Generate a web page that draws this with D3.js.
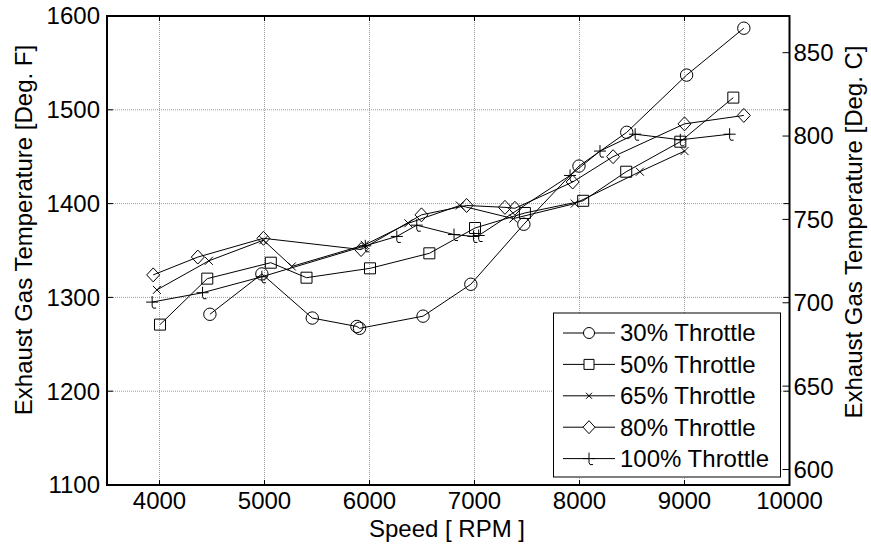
<!DOCTYPE html>
<html><head><meta charset="utf-8">
<script src="https://cdn.jsdelivr.net/npm/d3@7"></script>
<style>
html,body{margin:0;padding:0;background:#fff;}
svg{display:block;}
text{font-family:"Liberation Sans",Arial,Helvetica,sans-serif;fill:#000;}
</style></head>
<body>
<svg id="chart" width="871" height="552"></svg>
<script>
// ---- data ----
const rpmTicks = [4000,5000,6000,7000,8000,9000,10000];
const degFTicks = [1100,1200,1300,1400,1500,1600];
const degCTicks = [600,650,700,750,800,850];
const seriesNames = ["30% Throttle","50% Throttle","65% Throttle","80% Throttle","100% Throttle"];
const markerTypes = ["circle","square","x","diamond","t"];

const throttle30 = [[4480,1282],[4975,1325],[5455,1278],[5880,1269],[5905,1267],[6510,1280],[6965,1314],[7470,1378],[7995,1440],[8450,1476],[9020,1537],[9565,1587]];
const throttle50 = [[4005,1271],[4455,1320],[5060,1337],[5400,1321],[6005,1331],[6570,1347],[7005,1374],[7480,1390],[8035,1403],[8445,1434],[8960,1466],[9465,1513]];
const throttle65 = [[3975,1308],[4470,1339],[4990,1361],[5260,1333],[5955,1356],[6370,1379],[6860,1398],[7370,1384],[7955,1400],[8575,1434],[9000,1456]];
const throttle80 = [[3940,1324],[4365,1343],[4990,1363],[5920,1351],[6495,1388],[6925,1398],[7290,1396],[7385,1395],[7935,1423],[8320,1450],[9000,1485],[9565,1494]];
const throttle100 = [[3930,1295],[4410,1305],[4975,1322],[5960,1355],[6260,1365],[6450,1377],[6805,1367],[6990,1365],[7040,1366],[7910,1430],[8195,1456],[8530,1474],[8960,1468],[9430,1474]];
const allSeries = [throttle30, throttle50, throttle65, throttle80, throttle100];

// ---- layout ----
const svg = d3.select("#chart");
const L = 107, R = 789.5, T = 16, B = 485;
const x = d3.scaleLinear().domain([3500,10000]).range([L,R]);
const yF = d3.scaleLinear().domain([1100,1600]).range([B,T]);
const yC = d3.scaleLinear().domain([590.7,872]).range([B,T]);
const FS = 24;

// grid
const grid = svg.append("g").attr("stroke","#9a9a9a").attr("stroke-width",1).attr("stroke-dasharray","1,1");
rpmTicks.filter(v=>v<10000).forEach(v=>{
  grid.append("line").attr("x1",x(v)).attr("x2",x(v)).attr("y1",T).attr("y2",B);
});
degFTicks.filter(v=>v>1100 && v<1600).forEach(v=>{
  grid.append("line").attr("x1",L).attr("x2",R).attr("y1",yF(v)).attr("y2",yF(v));
});

// markers
function markerPath(type){
  switch(type){
    case "circle": return d3.symbol(d3.symbolCircle, Math.PI*6.2*6.2)();
    case "square": return "M-5.5,-5.5H5.5V5.5H-5.5Z";
    case "diamond": return "M0,-7L6.5,0L0,7L-6.5,0Z";
    case "x": return "M-4,-4L4,4M-4,4L4,-4";
    case "t": return "M-6,0H6M0,-6V4Q0,7 4,6";
  }
}
function markerPathSmall(type){
  switch(type){
    case "circle": return d3.symbol(d3.symbolCircle, Math.PI*5.5*5.5)();
    case "square": return "M-5,-5H5V5H-5Z";
    case "diamond": return "M0,-6.5L6,0L0,6.5L-6,0Z";
    case "x": return "M-3,-3L3,3M-3,3L3,-3";
    case "t": return "M-6,0H6M0,-6V4Q0,7 4,6";
  }
}

const line = d3.line().x(d=>x(d[0])).y(d=>yF(d[1]));
const plot = svg.append("g");
allSeries.forEach((s,i)=>{
  plot.append("path").datum(s).attr("d",line).attr("fill","none").attr("stroke","#000").attr("stroke-width",1);
});
allSeries.forEach((s,i)=>{
  plot.selectAll(null).data(s).enter().append("path")
    .attr("d",markerPath(markerTypes[i]))
    .attr("transform",d=>`translate(${x(d[0])},${yF(d[1])})`)
    .attr("fill","none").attr("stroke","#000").attr("stroke-width",1);
});

// axes box
const ax = svg.append("g");
ax.append("rect").attr("x",L).attr("y",T).attr("width",R-L).attr("height",B-T)
  .attr("fill","none").attr("stroke","#000").attr("stroke-width",2);
// ticks (inward)
const tk = ax.append("g").attr("stroke","#000").attr("stroke-width",1);
rpmTicks.forEach(v=>{
  tk.append("line").attr("x1",x(v)).attr("x2",x(v)).attr("y1",B).attr("y2",B-5);
  tk.append("line").attr("x1",x(v)).attr("x2",x(v)).attr("y1",T).attr("y2",T+5);
});
degFTicks.forEach(v=>{
  tk.append("line").attr("x1",L).attr("x2",L+6).attr("y1",yF(v)).attr("y2",yF(v));
  tk.append("line").attr("x1",R).attr("x2",R-6).attr("y1",yF(v)).attr("y2",yF(v));
});
degCTicks.forEach(v=>{
  tk.append("line").attr("x1",R).attr("x2",R-7).attr("y1",yC(v)).attr("y2",yC(v));
});

// tick labels
rpmTicks.forEach(v=>{
  ax.append("text").attr("x",x(v)).attr("y",B+24).attr("text-anchor","middle")
    .attr("font-size",FS).text(v);
});
degFTicks.forEach(v=>{
  ax.append("text").attr("x",L-7).attr("y",yF(v)).attr("dy","0.35em").attr("text-anchor","end")
    .attr("font-size",FS).text(v);
});
degCTicks.forEach(v=>{
  ax.append("text").attr("x",R+4).attr("y",yC(v)).attr("dy","0.35em").attr("text-anchor","start")
    .attr("font-size",FS).text(v);
});

// axis titles
svg.append("text").attr("x",447).attr("y",537).attr("text-anchor","middle").attr("font-size",FS).text("Speed [ RPM ]");
svg.append("text").attr("transform","translate(32,230) rotate(-90)").attr("text-anchor","middle").attr("font-size",FS).text("Exhaust Gas Temperature [Deg. F]");
svg.append("text").attr("transform","translate(862,232) rotate(-90)").attr("text-anchor","middle").attr("font-size",FS).text("Exhaust Gas Temperature [Deg. C]");

// legend
const lg = svg.append("g");
lg.append("rect").attr("x",553.5).attr("y",313).attr("width",227).attr("height",164)
  .attr("fill","#fff").attr("stroke","#000").attr("stroke-width",1);
seriesNames.forEach((n,i)=>{
  const cy = 333 + i*31.4;
  lg.append("line").attr("x1",563).attr("x2",615).attr("y1",cy).attr("y2",cy).attr("stroke","#000").attr("stroke-width",1);
  lg.append("path").attr("d",markerPathSmall(markerTypes[i])).attr("transform",`translate(589,${cy})`)
    .attr("fill","#fff").attr("stroke","#000").attr("stroke-width",1);
  lg.append("text").attr("x",620).attr("y",cy).attr("dy","0.35em").attr("font-size",FS).text(n);
});
</script>
</body></html>
